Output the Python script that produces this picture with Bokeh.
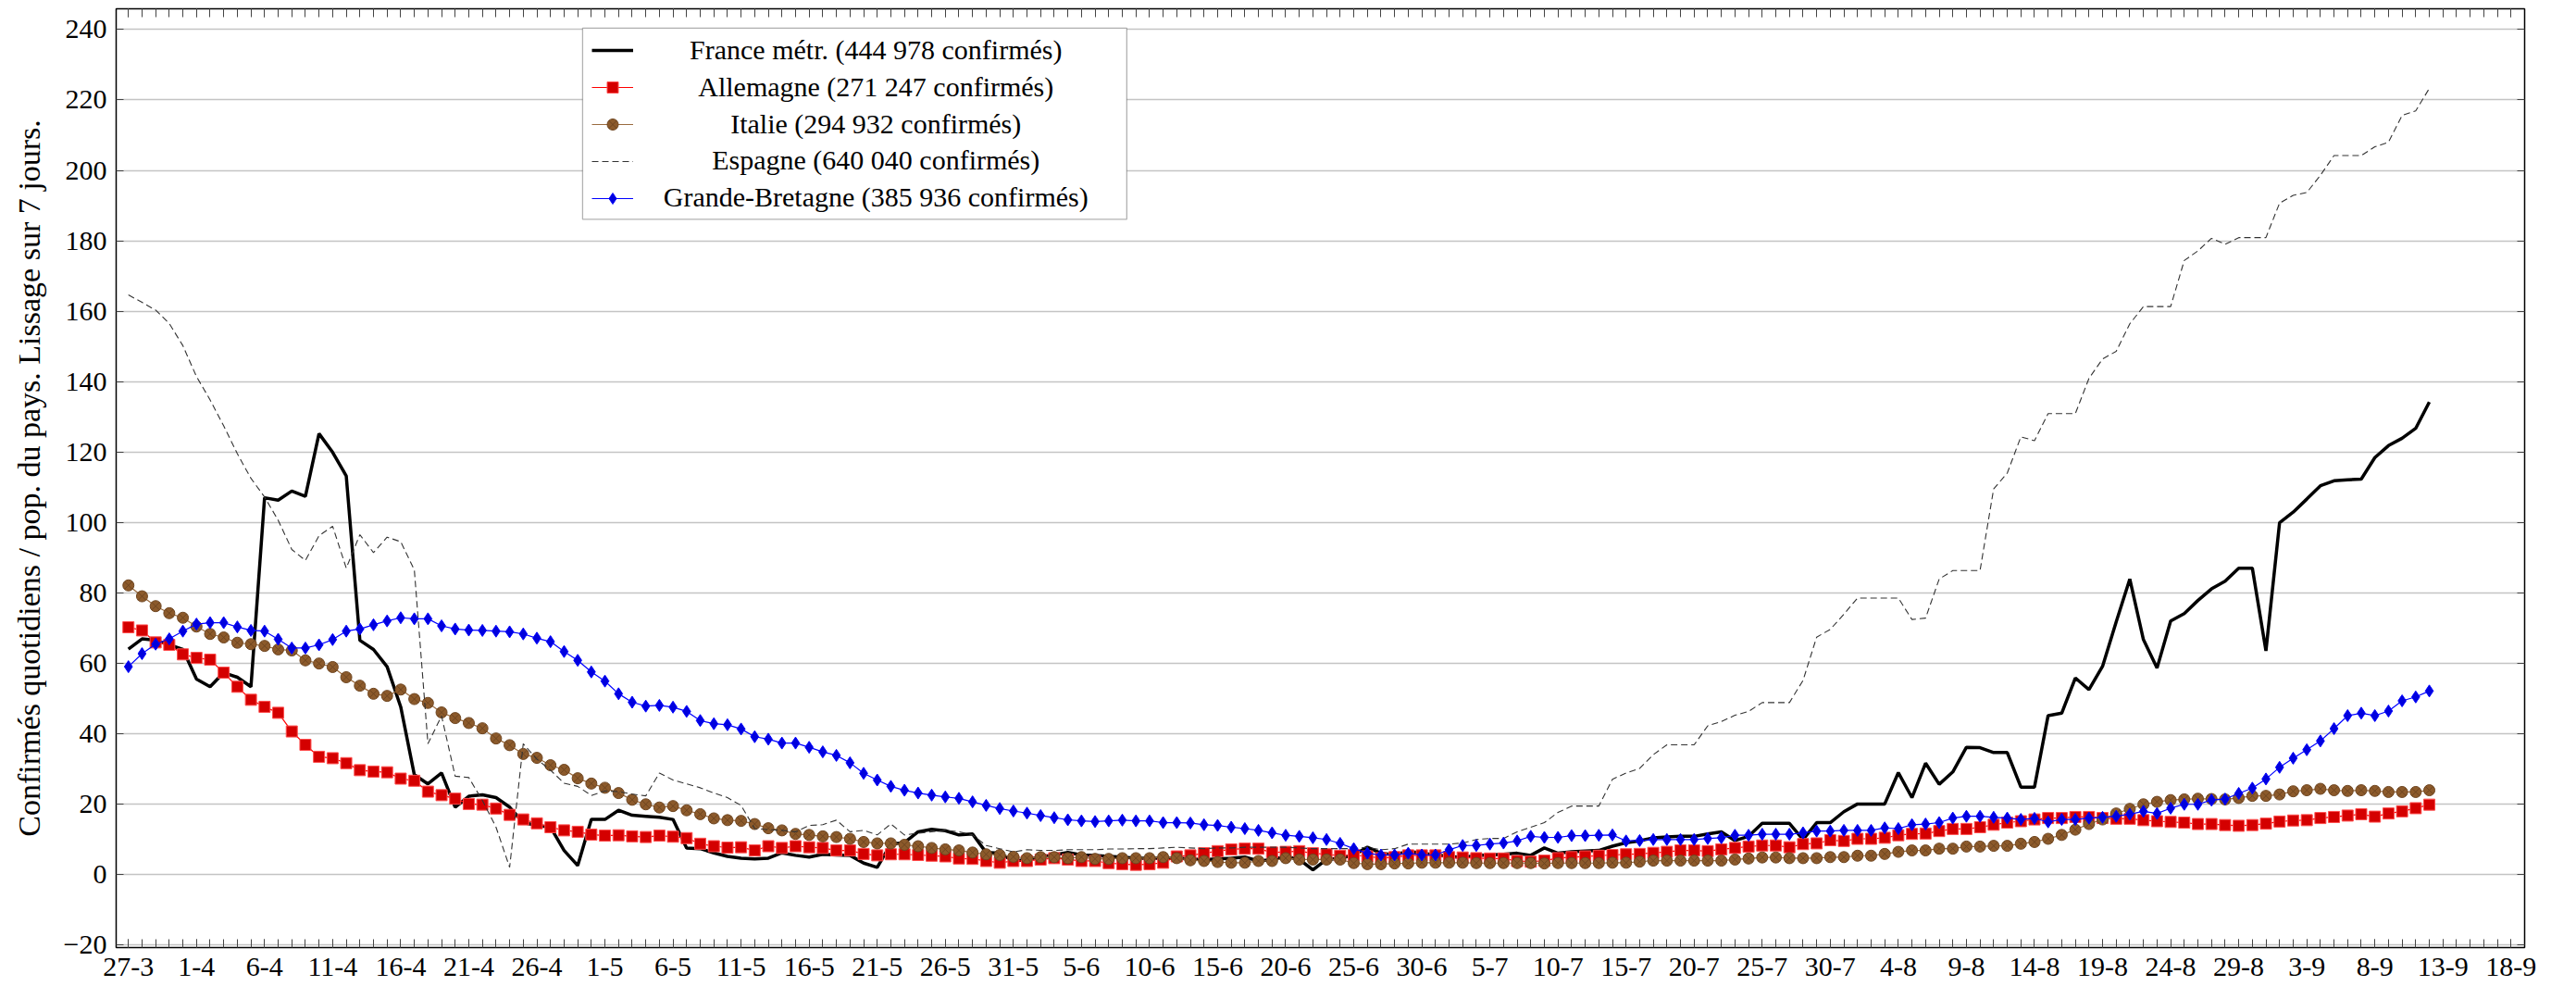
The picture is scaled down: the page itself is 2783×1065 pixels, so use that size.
from bokeh.plotting import figure
from bokeh.models import (Range1d, FixedTicker, LinearAxis, Legend, LegendItem,
                          Label, BoxAnnotation)
from bokeh.embed import file_html
from bokeh.resources import INLINE

# ---------------- data ----------------
TICK_LABELS = ["27-3", "1-4", "6-4", "11-4", "16-4", "21-4", "26-4", "1-5", "6-5",
               "11-5", "16-5", "21-5", "26-5", "31-5", "5-6", "10-6", "15-6", "20-6",
               "25-6", "30-6", "5-7", "10-7", "15-7", "20-7", "25-7", "30-7", "4-8",
               "9-8", "14-8", "19-8", "24-8", "29-8", "3-9", "8-9", "13-9", "18-9"]

SERIES_NAMES = ["France métr. (444 978 confirmés)",
                "Allemagne (271 247 confirmés)",
                "Italie (294 932 confirmés)",
                "Espagne (640 040 confirmés)",
                "Grande-Bretagne (385 936 confirmés)"]

FRANCE = [64.0, 66.9, 66.5, 65.2, 63.9, 55.5, 53.3, 57.3, 56.0, 53.3,
          107.0, 106.3, 108.9, 107.4, 125.2, 119.9, 113.2, 66.5, 63.9, 59.0,
          47.6, 28.3, 25.7, 28.8, 19.1, 22.2, 22.6, 21.8, 19.1, 14.7,
          13.9, 13.4, 6.8, 2.5, 15.6, 15.6, 18.2, 16.8, 16.5, 16.2,
          15.6, 7.5, 7.3, 6.1, 5.1, 4.6, 4.4, 4.6, 6.1, 5.4,
          4.9, 5.7, 5.5, 5.4, 3.2, 2.0, 8.6, 9.0, 12.1, 12.8,
          12.4, 11.2, 11.5, 6.2, 6.0, 3.8, 4.2, 5.0, 5.5, 6.2,
          5.5, 5.4, 5.1, 4.9, 4.6, 4.6, 4.6, 4.6, 4.4, 4.2,
          4.4, 4.6, 4.9, 3.8, 4.2, 5.1, 4.2, 1.3, 4.2, 4.6,
          5.5, 7.7, 6.0, 5.5, 6.6, 6.0, 5.5, 5.1, 4.8, 5.4,
          5.5, 5.7, 6.0, 5.4, 7.5, 6.0, 6.4, 6.6, 6.8, 8.0,
          9.0, 9.5, 10.4, 10.6, 10.8, 10.8, 11.5, 12.1, 9.6, 10.8,
          14.5, 14.5, 14.5, 9.9, 14.7, 14.7, 17.8, 20.0, 20.0, 20.0,
          28.9, 21.8, 31.6, 25.6, 29.1, 36.1, 36.0, 34.6, 34.6, 24.8,
          24.8, 45.1, 45.8, 55.8, 52.5, 59.1, 71.7, 83.9, 66.7, 58.6,
          72.0, 74.1, 77.8, 81.1, 83.3, 87.0, 87.0, 63.5, 99.9, 102.9,
          106.6, 110.4, 111.8, 112.1, 112.3, 118.4, 121.8, 123.9, 126.7, 134.2]

GERMANY = [70.2, 69.3, 65.9, 65.2, 62.5, 61.5, 61.0, 57.3, 53.3, 49.6,
           47.6, 45.9, 40.6, 36.8, 33.4, 33.0, 31.6, 29.6, 29.2, 29.0,
           27.2, 26.6, 23.5, 22.5, 21.5, 20.0, 19.8, 18.7, 16.9, 15.6,
           14.5, 13.4, 12.5, 12.1, 11.3, 11.0, 11.1, 10.8, 10.6, 11.0,
           10.7, 10.3, 8.7, 8.0, 7.6, 7.7, 6.8, 8.0, 7.5, 8.0,
           7.7, 7.5, 6.8, 6.8, 5.8, 5.4, 5.7, 5.7, 5.5, 5.3,
           5.1, 4.5, 4.4, 3.8, 3.3, 3.8, 3.8, 4.2, 4.6, 4.2,
           3.8, 3.8, 3.2, 2.9, 2.7, 2.9, 3.3, 5.1, 5.4, 6.0,
           6.6, 7.1, 7.3, 7.3, 6.2, 6.4, 6.6, 6.0, 5.7, 5.3,
           5.5, 5.1, 4.6, 4.9, 5.4, 5.4, 5.4, 4.9, 4.8, 4.6,
           4.5, 4.5, 3.8, 3.6, 3.9, 4.6, 4.9, 5.1, 5.3, 5.5,
           5.7, 5.8, 6.1, 6.4, 6.8, 6.8, 6.6, 7.1, 7.5, 7.9,
           8.2, 8.2, 7.7, 8.6, 8.8, 9.7, 9.5, 10.1, 10.1, 10.4,
           11.1, 11.5, 11.6, 12.3, 12.9, 12.9, 13.4, 14.1, 14.7, 15.1,
           15.6, 16.0, 16.0, 16.3, 16.3, 16.0, 15.8, 15.8, 15.4, 15.1,
           14.9, 14.7, 14.3, 14.3, 14.0, 13.8, 14.0, 14.4, 15.0, 15.3,
           15.4, 16.0, 16.3, 16.7, 17.1, 16.4, 17.3, 17.9, 18.8, 19.8]

ITALY = [82.1, 79.0, 76.2, 74.2, 72.9, 70.4, 68.3, 67.3, 65.8, 65.4,
         64.9, 63.9, 63.6, 60.8, 59.9, 58.9, 56.0, 53.6, 51.3, 50.7,
         52.5, 49.8, 48.7, 46.0, 44.4, 43.0, 41.5, 38.6, 36.7, 34.2,
         33.1, 31.0, 29.7, 27.3, 25.8, 24.6, 23.1, 21.2, 19.9, 19.0,
         19.4, 18.2, 17.1, 15.9, 15.4, 15.2, 14.3, 13.1, 12.5, 11.5,
         11.2, 10.8, 10.6, 10.1, 9.2, 8.8, 8.8, 8.4, 8.0, 7.5,
         7.1, 6.8, 6.2, 5.7, 5.5, 5.0, 4.6, 4.9, 4.9, 4.6,
         4.9, 4.4, 4.4, 4.6, 4.6, 4.6, 4.9, 4.6, 4.0, 3.8,
         3.5, 3.3, 3.3, 3.8, 3.8, 4.6, 4.2, 4.2, 4.2, 4.2,
         3.2, 2.9, 2.9, 3.1, 3.1, 3.3, 3.3, 3.3, 3.3, 3.2,
         3.2, 3.2, 3.2, 3.2, 3.1, 3.2, 3.2, 3.2, 3.2, 3.3,
         3.3, 3.6, 3.9, 3.9, 3.9, 3.9, 3.9, 3.9, 4.2, 4.5,
         4.8, 4.8, 4.6, 4.6, 4.6, 4.9, 4.9, 5.3, 5.3, 5.8,
         6.4, 6.8, 6.8, 7.3, 7.3, 7.9, 7.9, 8.1, 8.1, 8.7,
         9.2, 10.1, 11.2, 12.7, 14.3, 15.6, 17.3, 18.6, 19.9, 20.6,
         21.1, 21.3, 21.5, 21.4, 21.3, 21.7, 22.3, 22.3, 22.7, 23.6,
         23.9, 24.3, 23.9, 23.7, 23.9, 23.7, 23.4, 23.4, 23.4, 23.9]

SPAIN = [164.6, 162.5, 160.3, 156.5, 150.2, 141.4, 134.8, 127.4, 119.5, 112.5,
         107.2, 100.6, 92.3, 89.2, 96.2, 98.9, 87.0, 96.5, 91.4, 95.8,
         94.5, 86.5, 37.1, 45.0, 27.9, 27.5, 21.0, 13.4, 2.0, 37.1,
         32.7, 29.6, 25.9, 25.0, 22.4, 23.7, 23.5, 22.8, 22.3, 28.8,
         26.8, 25.7, 24.6, 23.1, 21.8, 19.6, 13.0, 12.7, 12.5, 12.1,
         13.9, 14.1, 15.4, 12.1, 12.5, 11.2, 14.3, 11.2, 11.7, 12.1,
         12.5, 12.1, 11.2, 8.2, 7.3, 6.4, 7.0, 6.8, 6.8, 7.0,
         7.0, 7.0, 7.2, 7.2, 7.3, 7.3, 7.5, 7.7, 7.5, 7.3,
         7.5, 7.5, 7.7, 7.7, 7.7, 7.7, 7.5, 7.3, 7.3, 7.3,
         7.3, 7.7, 7.0, 7.3, 8.6, 8.6, 8.6, 8.6, 8.9, 9.9,
         10.2, 10.2, 12.1, 13.4, 14.7, 17.6, 19.4, 19.4, 19.4, 27.0,
         28.8, 30.1, 34.0, 36.8, 36.8, 36.8, 42.2, 43.4, 45.2, 46.3,
         48.8, 48.8, 48.8, 55.1, 67.4, 69.6, 73.9, 78.5, 78.5, 78.5,
         78.5, 72.4, 72.8, 83.9, 86.3, 86.3, 86.3, 109.5, 114.0, 124.3,
         123.2, 130.9, 130.9, 130.9, 140.9, 146.4, 148.6, 156.4, 161.3, 161.3,
         161.3, 174.4, 177.1, 180.7, 179.0, 180.9, 180.9, 180.9, 190.7, 192.9,
         193.7, 198.6, 204.2, 204.2, 204.2, 206.7, 208.0, 215.6, 216.9, 223.3]

UK = [59.0, 62.7, 65.4, 66.9, 69.1, 71.1, 71.5, 71.5, 70.3, 69.3,
      69.1, 66.8, 64.3, 64.3, 65.2, 66.7, 69.1, 69.7, 70.9, 72.0,
      72.9, 72.6, 72.6, 70.6, 69.7, 69.4, 69.3, 69.1, 68.9, 68.3,
      67.1, 66.1, 63.3, 60.8, 57.5, 54.9, 51.3, 48.9, 47.8, 48.0,
      47.5, 46.3, 43.7, 42.8, 42.5, 41.3, 39.1, 38.4, 37.3, 37.3,
      36.1, 34.8, 33.8, 31.7, 28.7, 26.8, 25.0, 23.9, 23.1, 22.5,
      22.0, 21.6, 20.6, 19.6, 18.7, 18.0, 17.4, 16.7, 16.1, 15.5,
      15.2, 15.0, 15.2, 15.4, 15.2, 15.2, 14.7, 14.7, 14.6, 14.1,
      13.9, 13.4, 13.0, 12.5, 11.8, 11.1, 10.8, 10.4, 9.9, 8.8,
      7.3, 6.0, 5.5, 5.5, 6.0, 5.5, 5.5, 7.0, 8.2, 8.2,
      8.6, 8.9, 9.5, 10.8, 10.5, 10.5, 11.0, 11.0, 11.1, 11.2,
      9.5, 9.6, 9.9, 9.9, 9.9, 9.9, 10.2, 10.4, 11.1, 11.1,
      11.4, 11.4, 11.4, 11.8, 12.3, 12.3, 12.5, 12.5, 12.5, 13.2,
      13.0, 14.1, 14.3, 14.7, 16.0, 16.5, 16.5, 16.2, 16.0, 15.6,
      15.9, 14.9, 15.6, 15.6, 16.0, 16.2, 16.5, 17.1, 17.9, 17.3,
      18.8, 19.9, 19.9, 21.1, 21.4, 23.0, 24.5, 27.1, 30.4, 33.0,
      35.4, 37.9, 41.4, 45.1, 45.8, 45.1, 46.4, 49.3, 50.4, 52.1]

# ---------------- figure ----------------
FONT = "Liberation Serif"
days = list(range(len(FRANCE)))
tick_pos = [5 * i for i in range(len(TICK_LABELS))]
x_ticker = FixedTicker(ticks=tick_pos, minor_ticks=list(range(0, tick_pos[-1] + 2)))
y_ticks = list(range(-20, 241, 20))
y_ticker = FixedTicker(ticks=y_ticks, minor_ticks=[])

p = figure(width=2760, height=1075, output_backend="svg", toolbar_location=None,
           x_range=Range1d(-0.9, 176.0), y_range=Range1d(-20.8, 245.9),
           min_border_left=125, min_border_right=33, min_border_top=9,
           min_border_bottom=52)
p.background_fill_color = "white"
p.border_fill_color = "white"
p.outline_line_color = "black"
p.outline_line_width = 1.5
p.xgrid.visible = False
p.ygrid.ticker = y_ticker
p.ygrid.grid_line_color = "#c4c4c4"
p.ygrid.grid_line_width = 1.3

TICK_COLOR = "#444444"

xa = p.xaxis[0]
xa.ticker = x_ticker
xa.major_label_overrides = {pos: lab for pos, lab in zip(tick_pos, TICK_LABELS)}
xa.major_label_text_font = FONT
xa.major_label_text_font_size = "30px"
xa.major_label_text_color = "black"
xa.major_label_standoff = 11
xa.major_tick_in = 9
xa.major_tick_out = 0
xa.minor_tick_in = 9
xa.minor_tick_out = 0
xa.axis_line_color = "black"
xa.major_tick_line_color = TICK_COLOR
xa.minor_tick_line_color = TICK_COLOR

ya = p.yaxis[0]
ya.ticker = y_ticker
ya.major_label_overrides = {-20: "\u221220"}
ya.major_label_text_font = FONT
ya.major_label_text_font_size = "30px"
ya.major_label_text_color = "black"
ya.major_label_standoff = 10
ya.major_tick_in = 8
ya.major_tick_out = 0
ya.minor_tick_line_color = None
ya.axis_line_color = "black"
ya.major_tick_line_color = TICK_COLOR
ya.axis_label = "Confirmés quotidiens / pop. du pays. Lissage sur 7 jours."
ya.axis_label_text_font = FONT
ya.axis_label_text_font_size = "34px"
ya.axis_label_text_font_style = "normal"
ya.axis_label_text_color = "black"
ya.axis_label_standoff = 16

top = LinearAxis(ticker=x_ticker, major_tick_in=9, major_tick_out=0,
                 minor_tick_in=9, minor_tick_out=0, major_label_text_alpha=0,
                 major_label_text_font_size="1px", major_label_standoff=0,
                 axis_line_color="black", major_tick_line_color=TICK_COLOR,
                 minor_tick_line_color=TICK_COLOR)
p.add_layout(top, "above")
right = LinearAxis(ticker=y_ticker, major_tick_in=8, major_tick_out=0,
                   minor_tick_line_color=None, major_label_text_alpha=0,
                   major_label_text_font_size="1px", major_label_standoff=0,
                   axis_line_color="black", major_tick_line_color=TICK_COLOR)
p.add_layout(right, "right")

fr = p.line(days, FRANCE, line_color="black", line_width=3.5)
de_l = p.line(days, GERMANY, line_color="#ff0000", line_width=1.2)
de_m = p.scatter(days, GERMANY, marker="square", size=12, fill_color="#d40000",
                 line_color="#ff4d4d", line_width=1)
it_l = p.line(days, ITALY, line_color="#9a6b3f", line_width=1.2)
it_m = p.scatter(days, ITALY, marker="circle_x", size=12, fill_color="#8c5a2b",
                 line_color="#6e4520", line_width=1)
es = p.line(days, SPAIN, line_color="#333333", line_width=1.1, line_dash="7 4")
uk_l = p.line(days, UK, line_color="#0000ff", line_width=1.2)
uk_m = p.scatter(days, UK, marker="diamond", size=13, fill_color="#0000dd",
                 line_color="#0000ff", line_width=1)

# ---------------- legend (framed, centred texts) ----------------
box = BoxAnnotation(left=33.36, right=73.33, top=240.4, bottom=186.1,
                    fill_color="white", fill_alpha=1.0, line_color="black",
                    line_width=1.3)
p.add_layout(box)
row_y = [234.3, 223.7, 213.2, 202.9, 192.5]
for name, yy in zip(SERIES_NAMES, row_y):
    p.add_layout(Label(x=54.9, y=yy, text=name, text_align="center",
                       text_baseline="middle", text_font=FONT,
                       text_font_size="30px", text_color="black"))

legend = Legend(items=[LegendItem(label=" ", renderers=[fr]),
                       LegendItem(label=" ", renderers=[de_l, de_m]),
                       LegendItem(label=" ", renderers=[it_l, it_m]),
                       LegendItem(label=" ", renderers=[es]),
                       LegendItem(label=" ", renderers=[uk_l, uk_m])],
                location=(514, 794), glyph_width=45, glyph_height=30,
                label_height=30, spacing=10, padding=0, margin=0,
                label_standoff=0, label_width=0, label_text_font_size="1px",
                border_line_alpha=0, background_fill_alpha=0)
p.add_layout(legend)

open("out.html", "w").write(file_html(p, INLINE))
